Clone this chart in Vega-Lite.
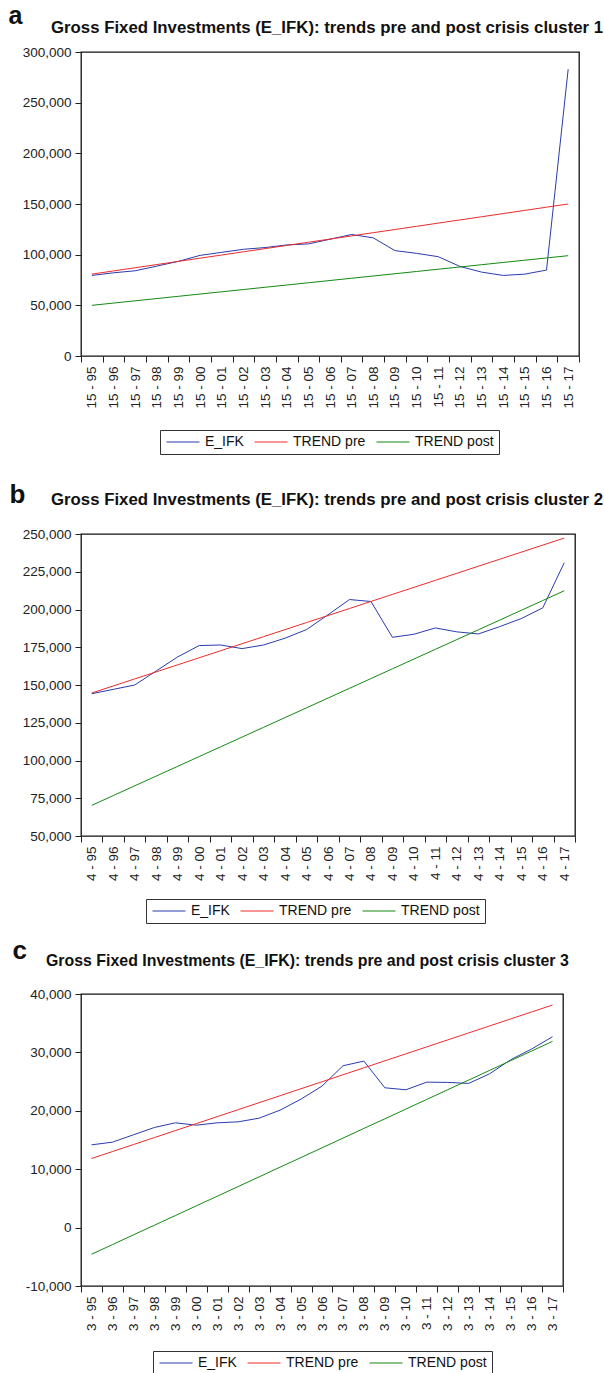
{
  "$schema": "https://vega.github.io/schema/vega-lite/v6.json",
  "padding": {"left": 8, "top": 3, "right": 0, "bottom": 0},
  "config": {
    "font": "Liberation Sans",
    "view": {"stroke": "#111", "strokeWidth": 1.3},
    "axis": {"labelFont": "Liberation Sans", "labelFontSize": 13.5, "labelColor": "#222", "tickColor": "#222", "tickSize": 6, "grid": false, "domain": false, "labelPadding": 4},
    "legend": {"labelFont": "Liberation Sans", "labelFontSize": 14, "labelColor": "#111", "symbolType": "M-3,0H3", "symbolSize": 121, "symbolStrokeWidth": 1, "symbolOffset": 11, "labelOffset": 15, "strokeColor": "#333", "padding": 5, "columnPadding": 8, "direction": "horizontal", "orient": "none"},
    "title": {"font": "Liberation Sans", "color": "#111", "fontWeight": "bold", "anchor": "start"},
    "line": {"strokeWidth": 1}
  },
  "resolve": {"scale": {"color": "independent", "x": "independent", "y": "independent"}, "legend": {"color": "independent"}},
  "columns": 1,
  "align": "none",
  "spacing": 25,
  "concat": [
    {
      "title": {"text": "a", "fontSize": 25, "frame": "bounds", "dx": -13, "offset": -9},
      "resolve": {"scale": {"color": "independent"}, "legend": {"color": "independent"}},
      "vconcat": [
        {
          "title": {"text": "Gross Fixed Investments (E_IFK): trends pre and post crisis cluster 1", "fontSize": 16.8, "frame": "group", "dx": -30, "offset": 8},
          "width": 498,
          "height": 304,
          "data": {"values": [
            {"period": "15 - 95", "E_IFK": 79500, "TREND pre": 80800, "TREND post": 50000},
            {"period": "15 - 96", "E_IFK": 82100, "TREND pre": 83950, "TREND post": 52230},
            {"period": "15 - 97", "E_IFK": 84100, "TREND pre": 87090, "TREND post": 54450},
            {"period": "15 - 98", "E_IFK": 88700, "TREND pre": 90240, "TREND post": 56680},
            {"period": "15 - 99", "E_IFK": 93400, "TREND pre": 93380, "TREND post": 58910},
            {"period": "15 - 00", "E_IFK": 99300, "TREND pre": 96530, "TREND post": 61140},
            {"period": "15 - 01", "E_IFK": 102300, "TREND pre": 99670, "TREND post": 63360},
            {"period": "15 - 02", "E_IFK": 105300, "TREND pre": 102820, "TREND post": 65590},
            {"period": "15 - 03", "E_IFK": 107000, "TREND pre": 105960, "TREND post": 67820},
            {"period": "15 - 04", "E_IFK": 109600, "TREND pre": 109110, "TREND post": 70040},
            {"period": "15 - 05", "E_IFK": 110600, "TREND pre": 112250, "TREND post": 72270},
            {"period": "15 - 06", "E_IFK": 115200, "TREND pre": 115400, "TREND post": 74500},
            {"period": "15 - 07", "E_IFK": 119900, "TREND pre": 118540, "TREND post": 76730},
            {"period": "15 - 08", "E_IFK": 116600, "TREND pre": 121690, "TREND post": 78950},
            {"period": "15 - 09", "E_IFK": 104000, "TREND pre": 124830, "TREND post": 81180},
            {"period": "15 - 10", "E_IFK": 101300, "TREND pre": 127980, "TREND post": 83410},
            {"period": "15 - 11", "E_IFK": 98000, "TREND pre": 131120, "TREND post": 85630},
            {"period": "15 - 12", "E_IFK": 88400, "TREND pre": 134270, "TREND post": 87860},
            {"period": "15 - 13", "E_IFK": 82800, "TREND pre": 137410, "TREND post": 90090},
            {"period": "15 - 14", "E_IFK": 79500, "TREND pre": 140560, "TREND post": 92320},
            {"period": "15 - 15", "E_IFK": 80800, "TREND pre": 143700, "TREND post": 94540},
            {"period": "15 - 16", "E_IFK": 84800, "TREND pre": 146850, "TREND post": 96770},
            {"period": "15 - 17", "E_IFK": 283000, "TREND pre": 150000, "TREND post": 99000}
          ]},
          "transform": [{"fold": ["E_IFK", "TREND pre", "TREND post"], "as": ["series", "value"]}],
          "mark": {"type": "line", "strokeWidth": 1},
          "encoding": {
            "x": {"field": "period", "type": "ordinal", "sort": null, "bandPosition": 0.5, "scale": {"type": "band", "paddingInner": 0, "paddingOuter": 0}, "axis": {"title": null, "labelAngle": -90, "tickBand": "extent"}},
            "y": {"field": "value", "type": "quantitative", "scale": {"domain": [0, 300000], "nice": false, "zero": false}, "axis": {"title": null, "values": [0, 50000, 100000, 150000, 200000, 250000, 300000], "format": ",d"}},
            "color": {"field": "series", "type": "nominal", "scale": {"domain": ["E_IFK", "TREND pre", "TREND post"], "range": ["#2a3bb0", "#ee2a2a", "#138a13"]}, "legend": {"title": null, "orient": "none", "direction": "horizontal", "legendX": 79, "legendY": 378}}
          }
        }
      ]
    },
    {
      "resolve": {"scale": {"color": "independent", "x": "independent", "y": "independent"}, "legend": {"color": "independent"}},
      "columns": 1,
      "align": "none",
      "spacing": 13,
      "concat": [
        {
          "title": {"text": "b", "fontSize": 26, "frame": "bounds", "dx": -12, "offset": -16},
          "resolve": {"scale": {"color": "independent"}, "legend": {"color": "independent"}},
          "vconcat": [
            {
              "title": {"text": "Gross Fixed Investments (E_IFK): trends pre and post crisis cluster 2", "fontSize": 16.8, "frame": "group", "dx": -30, "offset": 18},
              "width": 494,
              "height": 302,
              "data": {"values": [
                {"period": "4 - 95", "E_IFK": 144250, "TREND pre": 144700, "TREND post": 70300},
                {"period": "4 - 96", "E_IFK": 147100, "TREND pre": 149360, "TREND post": 76760},
                {"period": "4 - 97", "E_IFK": 150000, "TREND pre": 154030, "TREND post": 83220},
                {"period": "4 - 98", "E_IFK": 159300, "TREND pre": 158690, "TREND post": 89670},
                {"period": "4 - 99", "E_IFK": 168600, "TREND pre": 163350, "TREND post": 96130},
                {"period": "4 - 00", "E_IFK": 176100, "TREND pre": 168020, "TREND post": 102590},
                {"period": "4 - 01", "E_IFK": 176500, "TREND pre": 172680, "TREND post": 109050},
                {"period": "4 - 02", "E_IFK": 174100, "TREND pre": 177350, "TREND post": 115510},
                {"period": "4 - 03", "E_IFK": 176500, "TREND pre": 182010, "TREND post": 121970},
                {"period": "4 - 04", "E_IFK": 181000, "TREND pre": 186670, "TREND post": 128420},
                {"period": "4 - 05", "E_IFK": 186700, "TREND pre": 191340, "TREND post": 134880},
                {"period": "4 - 06", "E_IFK": 196500, "TREND pre": 196000, "TREND post": 141340},
                {"period": "4 - 07", "E_IFK": 206600, "TREND pre": 200660, "TREND post": 147800},
                {"period": "4 - 08", "E_IFK": 205300, "TREND pre": 205330, "TREND post": 154260},
                {"period": "4 - 09", "E_IFK": 181600, "TREND pre": 209990, "TREND post": 160720},
                {"period": "4 - 10", "E_IFK": 183600, "TREND pre": 214650, "TREND post": 167170},
                {"period": "4 - 11", "E_IFK": 187800, "TREND pre": 219320, "TREND post": 173630},
                {"period": "4 - 12", "E_IFK": 185200, "TREND pre": 223980, "TREND post": 180090},
                {"period": "4 - 13", "E_IFK": 183800, "TREND pre": 228650, "TREND post": 186550},
                {"period": "4 - 14", "E_IFK": 188700, "TREND pre": 233310, "TREND post": 193010},
                {"period": "4 - 15", "E_IFK": 194000, "TREND pre": 237970, "TREND post": 199470},
                {"period": "4 - 16", "E_IFK": 201100, "TREND pre": 242640, "TREND post": 205940},
                {"period": "4 - 17", "E_IFK": 231000, "TREND pre": 247300, "TREND post": 212400}
              ]},
              "transform": [{"fold": ["E_IFK", "TREND pre", "TREND post"], "as": ["series", "value"]}],
              "mark": {"type": "line", "strokeWidth": 1},
              "encoding": {
                "x": {"field": "period", "type": "ordinal", "sort": null, "bandPosition": 0.5, "scale": {"type": "band", "paddingInner": 0, "paddingOuter": 0}, "axis": {"title": null, "labelAngle": -90, "tickBand": "extent"}},
                "y": {"field": "value", "type": "quantitative", "scale": {"domain": [50000, 250000], "nice": false, "zero": false}, "axis": {"title": null, "values": [50000, 75000, 100000, 125000, 150000, 175000, 200000, 225000, 250000], "format": ",d"}},
                "color": {"field": "series", "type": "nominal", "scale": {"domain": ["E_IFK", "TREND pre", "TREND post"], "range": ["#2a3bb0", "#ee2a2a", "#138a13"]}, "legend": {"title": null, "orient": "none", "direction": "horizontal", "legendX": 65, "legendY": 365}}
              }
            }
          ]
        },
        {
          "title": {"text": "c", "fontSize": 26, "frame": "bounds", "dx": -12, "offset": -12},
          "resolve": {"scale": {"color": "independent"}, "legend": {"color": "independent"}},
          "vconcat": [
            {
              "title": {"text": "Gross Fixed Investments (E_IFK): trends pre and post crisis cluster 3", "fontSize": 15.9, "frame": "group", "dx": -35, "offset": 18},
              "width": 482,
              "height": 292,
              "data": {"values": [
                {"period": "3 - 95", "E_IFK": 14170, "TREND pre": 11830, "TREND post": -4570},
                {"period": "3 - 96", "E_IFK": 14630, "TREND pre": 13020, "TREND post": -2910},
                {"period": "3 - 97", "E_IFK": 15890, "TREND pre": 14220, "TREND post": -1250},
                {"period": "3 - 98", "E_IFK": 17140, "TREND pre": 15410, "TREND post": 400},
                {"period": "3 - 99", "E_IFK": 17940, "TREND pre": 16610, "TREND post": 2060},
                {"period": "3 - 00", "E_IFK": 17540, "TREND pre": 17800, "TREND post": 3720},
                {"period": "3 - 01", "E_IFK": 17940, "TREND pre": 19000, "TREND post": 5370},
                {"period": "3 - 02", "E_IFK": 18110, "TREND pre": 20190, "TREND post": 7030},
                {"period": "3 - 03", "E_IFK": 18740, "TREND pre": 21390, "TREND post": 8690},
                {"period": "3 - 04", "E_IFK": 20110, "TREND pre": 22580, "TREND post": 10350},
                {"period": "3 - 05", "E_IFK": 22000, "TREND pre": 23780, "TREND post": 12000},
                {"period": "3 - 06", "E_IFK": 24230, "TREND pre": 24970, "TREND post": 13660},
                {"period": "3 - 07", "E_IFK": 27710, "TREND pre": 26170, "TREND post": 15320},
                {"period": "3 - 08", "E_IFK": 28510, "TREND pre": 27360, "TREND post": 16980},
                {"period": "3 - 09", "E_IFK": 23940, "TREND pre": 28560, "TREND post": 18630},
                {"period": "3 - 10", "E_IFK": 23600, "TREND pre": 29750, "TREND post": 20290},
                {"period": "3 - 11", "E_IFK": 24910, "TREND pre": 30950, "TREND post": 21950},
                {"period": "3 - 12", "E_IFK": 24860, "TREND pre": 32140, "TREND post": 23610},
                {"period": "3 - 13", "E_IFK": 24690, "TREND pre": 33340, "TREND post": 25260},
                {"period": "3 - 14", "E_IFK": 26340, "TREND pre": 34530, "TREND post": 26920},
                {"period": "3 - 15", "E_IFK": 28740, "TREND pre": 35730, "TREND post": 28580},
                {"period": "3 - 16", "E_IFK": 30570, "TREND pre": 36920, "TREND post": 30230},
                {"period": "3 - 17", "E_IFK": 32690, "TREND pre": 38110, "TREND post": 31890}
              ]},
              "transform": [{"fold": ["E_IFK", "TREND pre", "TREND post"], "as": ["series", "value"]}],
              "mark": {"type": "line", "strokeWidth": 1},
              "encoding": {
                "x": {"field": "period", "type": "ordinal", "sort": null, "bandPosition": 0.5, "scale": {"type": "band", "paddingInner": 0, "paddingOuter": 0}, "axis": {"title": null, "labelAngle": -90, "tickBand": "extent"}},
                "y": {"field": "value", "type": "quantitative", "scale": {"domain": [-10000, 40000], "nice": false, "zero": false}, "axis": {"title": null, "values": [-10000, 0, 10000, 20000, 30000, 40000], "format": ",d", "labelExpr": "replace(datum.label, '\u2212', '-')"}},
                "color": {"field": "series", "type": "nominal", "scale": {"domain": ["E_IFK", "TREND pre", "TREND post"], "range": ["#2a3bb0", "#ee2a2a", "#138a13"]}, "legend": {"title": null, "orient": "none", "direction": "horizontal", "legendX": 72, "legendY": 357}}
              }
            }
          ]
        }
      ]
    }
  ]
}
